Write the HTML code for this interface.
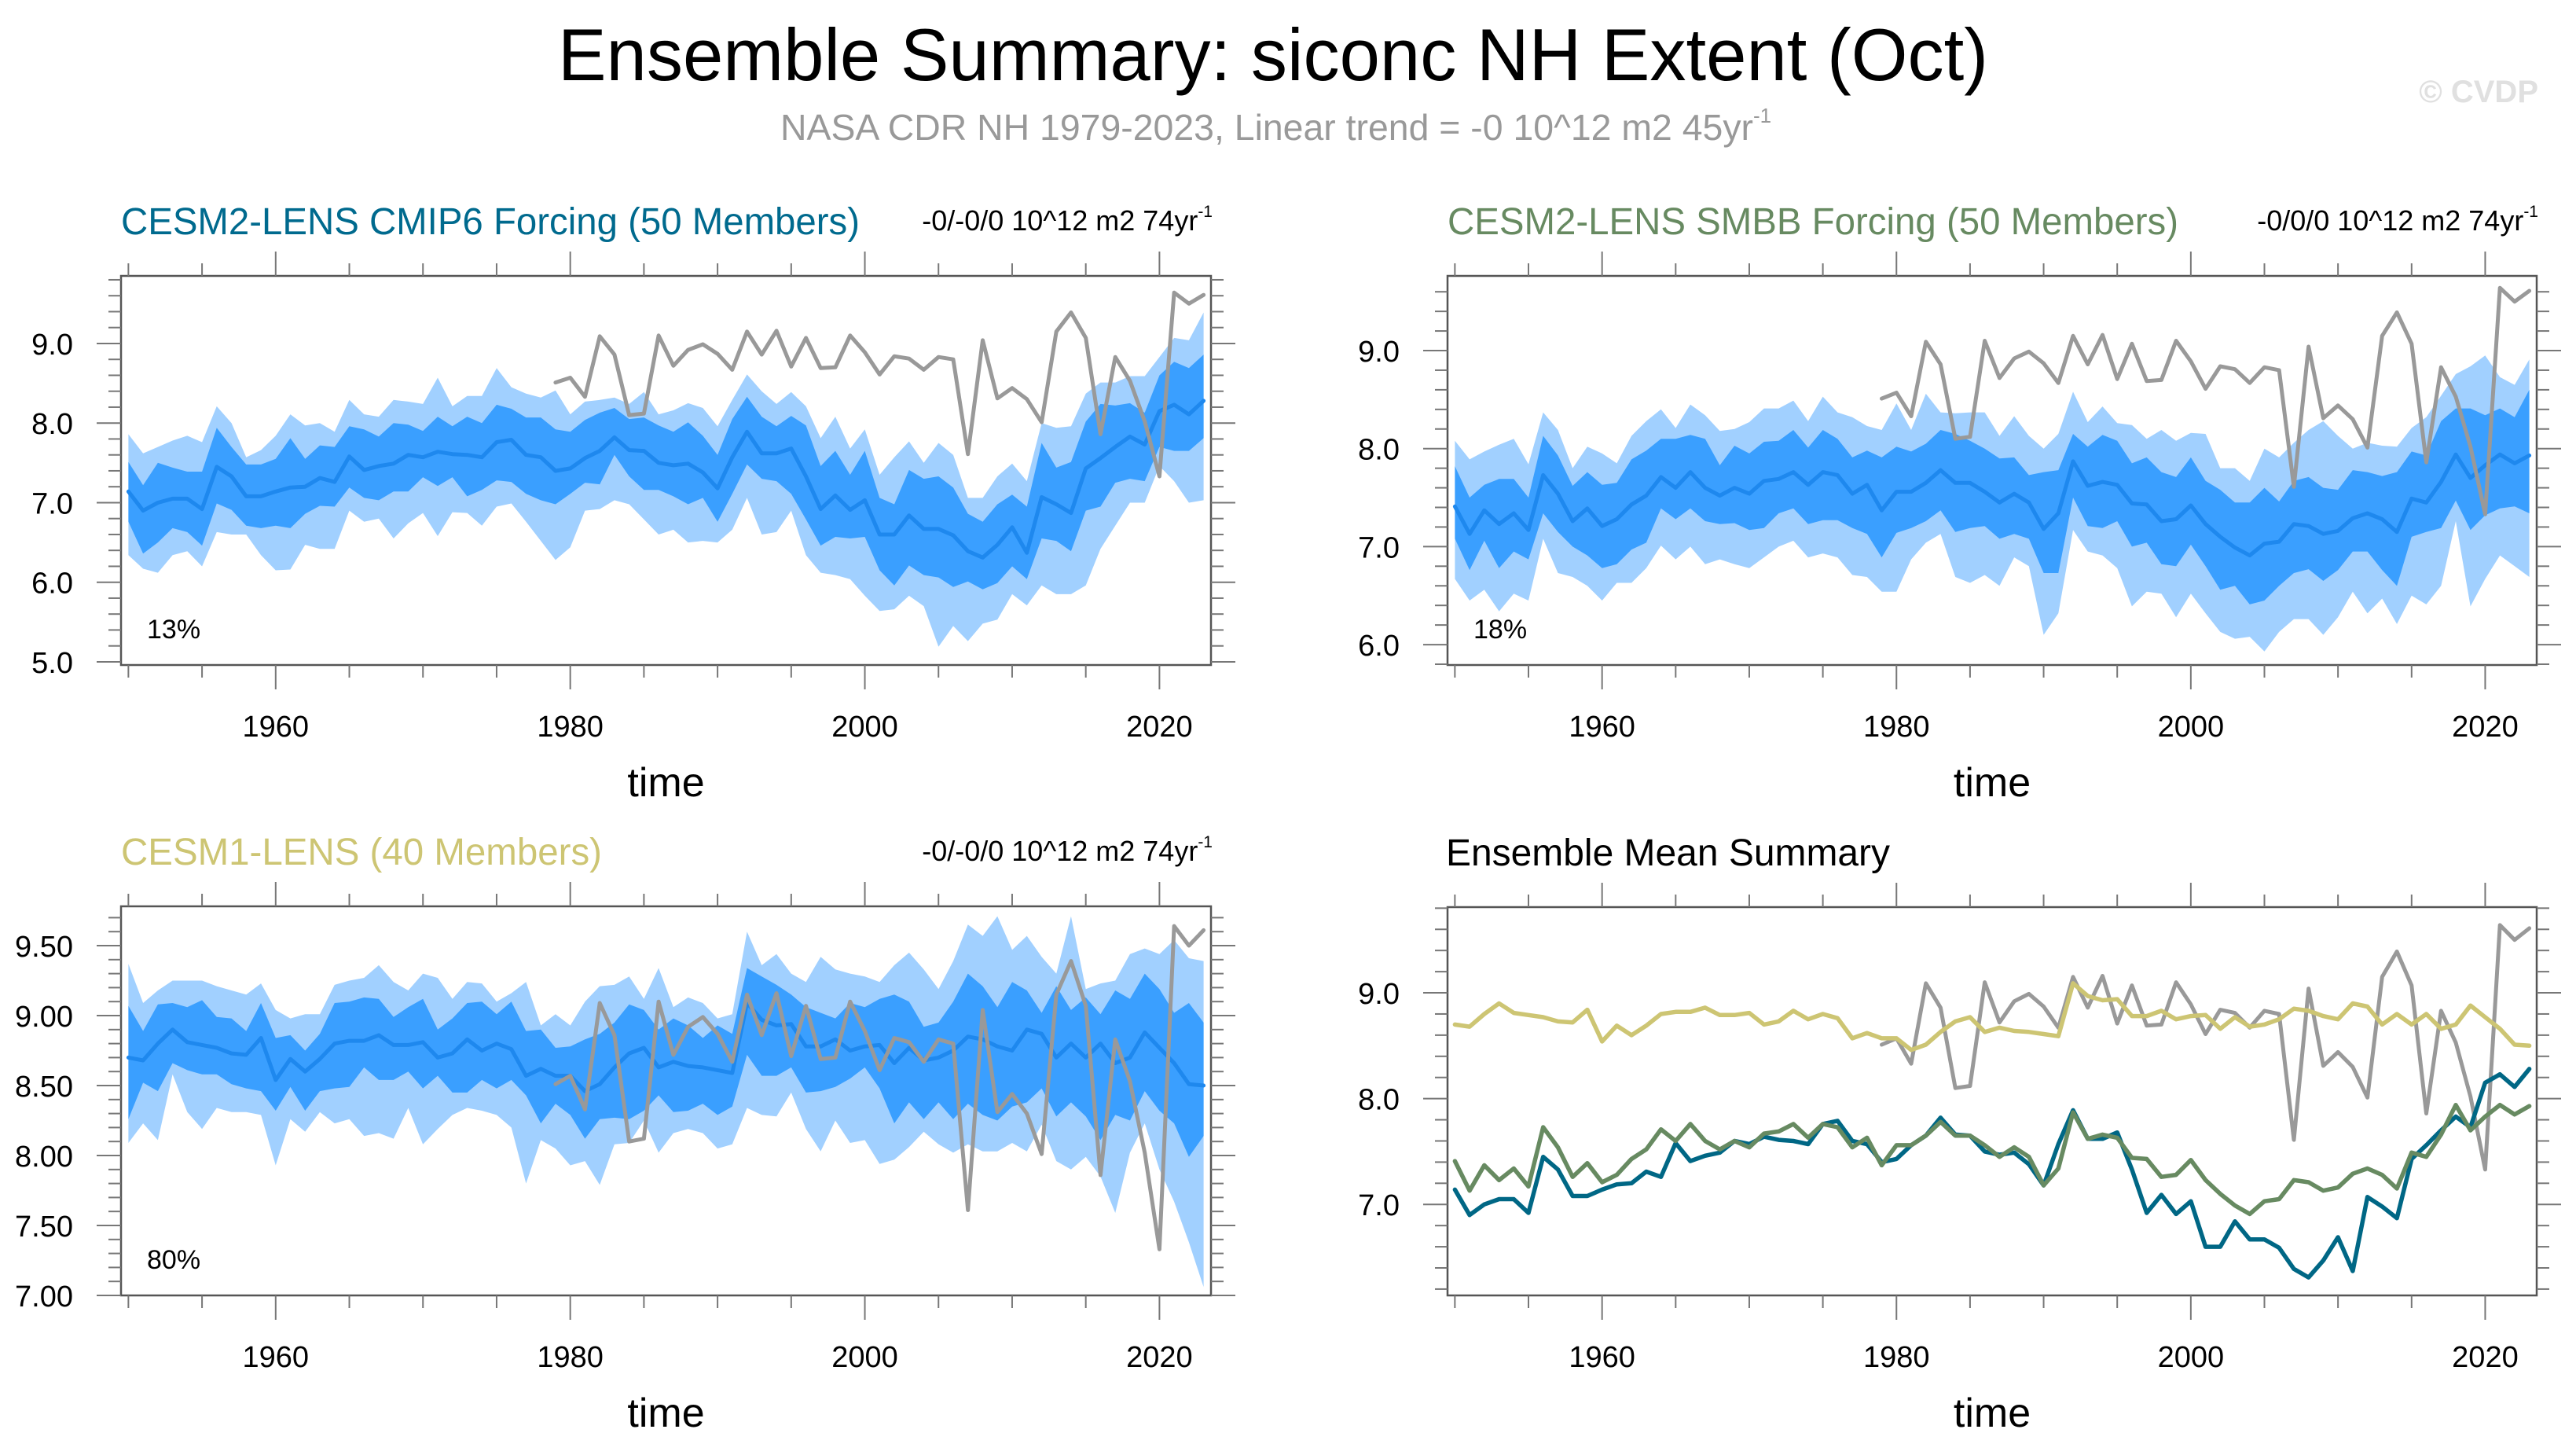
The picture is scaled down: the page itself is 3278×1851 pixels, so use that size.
<!DOCTYPE html>
<html><head><meta charset="utf-8"><style>
html,body{margin:0;padding:0;background:#fff;}
svg{display:block;font-family:"Liberation Sans",Arial,sans-serif;}
</style></head><body>
<svg id="fig" width="3278" height="1851" viewBox="0 0 3278 1851" xmlns="http://www.w3.org/2000/svg">
<text x="1620" y="102" font-size="94" text-anchor="middle" textLength="1820" lengthAdjust="spacingAndGlyphs" fill="#000">Ensemble Summary: siconc NH Extent (Oct)</text>
<text x="993" y="178" font-size="46" fill="#999"><tspan textLength="1238" lengthAdjust="spacingAndGlyphs">NASA CDR NH 1979-2023, Linear trend = -0 10^12 m2 45yr</tspan><tspan font-size="26" dy="-22">-1</tspan></text>
<text x="3230" y="130" font-size="40" font-weight="bold" fill="#e0e0e0" text-anchor="end">© CVDP</text>
<g id="plots"></g>
</svg>
<script>
const years = [];
for (let y = 1950; y <= 2023; y++) years.push(y);
const obsYears = [];
for (let y = 1979; y <= 2023; y++) obsYears.push(y);

const obs = [8.51,8.57,8.33,9.09,8.86,8.10,8.12,9.10,8.72,8.92,8.99,8.87,8.67,9.15,8.86,9.16,8.71,9.07,8.69,8.70,9.10,8.89,8.61,8.84,8.81,8.67,8.83,8.80,7.61,9.04,8.31,8.44,8.30,8.01,9.15,9.39,9.07,7.86,8.83,8.53,8.02,7.33,9.64,9.50,9.61];

const cmip6Mean = [7.14,6.90,7.00,7.05,7.05,6.92,7.45,7.33,7.08,7.08,7.14,7.19,7.20,7.31,7.26,7.58,7.41,7.46,7.49,7.60,7.57,7.64,7.61,7.60,7.57,7.76,7.79,7.60,7.57,7.40,7.43,7.56,7.65,7.82,7.66,7.65,7.50,7.47,7.49,7.38,7.18,7.57,7.89,7.62,7.62,7.68,7.33,6.92,7.09,6.91,7.03,6.60,6.60,6.84,6.67,6.67,6.59,6.39,6.31,6.47,6.69,6.37,7.07,6.98,6.87,7.43,7.56,7.70,7.83,7.73,8.15,8.23,8.11,8.28];
const cmip6InHi = [7.51,7.22,7.50,7.44,7.39,7.39,7.94,7.70,7.48,7.48,7.55,7.81,7.55,7.72,7.70,7.96,7.92,7.83,8.00,7.98,7.90,8.08,7.96,8.08,8.00,8.23,8.18,8.07,8.07,7.92,7.89,8.04,8.13,8.19,8.05,8.07,7.97,7.89,8.01,7.84,7.60,8.05,8.33,8.08,7.96,8.09,7.97,7.46,7.65,7.35,7.65,7.06,6.98,7.41,7.30,7.33,7.19,6.86,6.76,6.98,7.10,6.95,7.75,7.44,7.51,8.02,8.24,8.22,8.25,8.13,8.60,8.77,8.69,8.86];
const cmip6InLo = [6.76,6.36,6.50,6.68,6.63,6.46,6.99,6.91,6.71,6.68,6.71,6.68,6.86,6.96,6.95,7.19,7.06,7.03,7.14,7.14,7.32,7.21,7.32,7.08,7.16,7.28,7.26,7.11,7.03,6.98,7.11,7.25,7.23,7.60,7.33,7.16,7.16,7.08,6.98,7.06,6.76,7.11,7.48,7.30,7.27,7.11,6.79,6.46,6.57,6.55,6.57,6.15,5.96,6.21,6.09,6.06,5.94,6.01,5.91,5.99,6.20,6.04,6.55,6.52,6.39,6.90,6.95,7.25,7.30,7.27,7.70,7.65,7.65,7.81];
const cmip6OutHi = [7.86,7.62,7.70,7.78,7.84,7.76,8.21,8.00,7.57,7.66,7.84,8.11,7.97,8.00,7.89,8.29,8.11,8.08,8.29,8.27,8.24,8.57,8.21,8.34,8.34,8.69,8.45,8.37,8.32,8.41,8.11,8.27,8.29,8.32,8.24,8.39,8.11,8.16,8.25,8.19,7.96,8.29,8.61,8.40,8.24,8.39,8.21,7.81,8.08,7.68,7.92,7.35,7.57,7.77,7.50,7.75,7.60,7.06,7.06,7.33,7.49,7.27,8.00,7.94,7.96,8.37,8.51,8.51,8.59,8.59,8.83,9.07,9.04,9.39];
const cmip6OutLo = [6.34,6.17,6.12,6.34,6.39,6.20,6.63,6.60,6.60,6.34,6.15,6.16,6.47,6.42,6.42,6.90,6.76,6.80,6.55,6.74,6.87,6.58,6.88,6.87,6.71,6.95,6.99,6.76,6.52,6.28,6.44,6.90,6.92,7.03,6.98,6.79,6.60,6.66,6.50,6.52,6.50,6.66,7.06,6.60,6.63,6.90,6.34,6.12,6.09,6.04,5.83,5.64,5.66,5.83,5.70,5.19,5.45,5.26,5.48,5.53,5.85,5.71,5.96,5.85,5.85,5.96,6.42,6.71,7.00,7.00,7.46,7.27,7.00,7.03];

const smbbMean = [7.41,7.13,7.37,7.23,7.34,7.17,7.73,7.54,7.26,7.39,7.21,7.28,7.43,7.52,7.71,7.60,7.76,7.60,7.52,7.60,7.54,7.67,7.69,7.76,7.63,7.76,7.73,7.54,7.63,7.37,7.56,7.56,7.65,7.78,7.65,7.65,7.56,7.45,7.54,7.45,7.18,7.34,7.87,7.62,7.66,7.63,7.44,7.43,7.26,7.28,7.42,7.23,7.10,6.99,6.91,7.03,7.05,7.23,7.21,7.13,7.16,7.29,7.34,7.28,7.15,7.49,7.45,7.66,7.94,7.70,7.83,7.94,7.85,7.93];
const smbbInHi = [7.82,7.50,7.63,7.69,7.69,7.50,8.13,7.93,7.62,7.76,7.63,7.65,7.89,7.98,8.10,8.10,8.14,8.10,7.83,8.03,7.95,8.07,8.08,8.19,8.01,8.19,8.10,7.91,7.98,7.91,8.02,7.97,8.05,8.19,8.15,8.08,8.00,7.90,7.91,7.73,7.76,7.78,8.15,8.02,8.14,8.08,7.85,7.91,7.76,7.71,7.91,7.67,7.58,7.45,7.45,7.60,7.46,7.67,7.71,7.60,7.58,7.78,7.76,7.72,7.76,7.97,7.93,8.28,8.41,8.41,8.34,8.41,8.32,8.60];
const smbbInLo = [7.08,6.76,7.06,6.78,6.95,6.87,7.34,7.15,7.00,6.91,6.78,6.82,6.97,7.04,7.39,7.28,7.39,7.26,7.23,7.24,7.17,7.19,7.34,7.39,7.23,7.27,7.27,7.19,7.13,6.89,7.14,7.19,7.26,7.37,7.15,7.19,7.21,7.08,7.13,7.08,6.73,6.73,7.50,7.21,7.19,7.26,7.00,7.04,6.82,6.80,7.02,6.80,6.56,6.60,6.41,6.45,6.60,6.73,6.77,6.65,6.76,6.95,6.95,6.76,6.60,7.10,7.15,7.19,7.47,7.17,7.32,7.39,7.41,7.34];
const smbbOutHi = [8.08,7.89,7.97,8.04,8.10,7.84,8.37,8.19,7.80,8.02,7.95,7.85,8.13,8.28,8.40,8.21,8.45,8.34,8.18,8.20,8.27,8.41,8.41,8.49,8.28,8.53,8.37,8.32,8.23,8.19,8.46,8.19,8.56,8.37,8.36,8.37,8.37,8.13,8.33,8.13,8.00,8.15,8.58,8.27,8.43,8.26,8.24,8.10,8.19,8.08,8.16,8.15,7.80,7.80,7.67,8.00,7.91,8.06,8.19,8.28,8.13,8.00,8.06,8.03,8.02,8.21,8.32,8.54,8.76,8.84,8.95,8.73,8.65,8.91];
const smbbOutLo = [6.67,6.45,6.56,6.34,6.52,6.45,7.08,6.73,6.69,6.60,6.45,6.63,6.63,6.78,7.01,6.87,7.00,6.82,6.87,6.82,6.78,6.89,7.00,7.06,6.89,6.93,6.89,6.71,6.69,6.54,6.54,6.87,7.04,7.13,6.69,6.63,6.71,6.60,6.89,6.80,6.10,6.32,7.17,6.95,6.91,6.78,6.39,6.54,6.52,6.28,6.52,6.32,6.13,6.06,6.08,5.93,6.13,6.26,6.26,6.10,6.28,6.54,6.32,6.47,6.21,6.50,6.41,6.60,7.26,6.39,6.67,6.91,6.80,6.69];

const cesm1Mean = [8.70,8.68,8.80,8.90,8.81,8.79,8.77,8.73,8.72,8.84,8.54,8.69,8.60,8.69,8.80,8.82,8.82,8.86,8.79,8.79,8.81,8.70,8.73,8.83,8.75,8.80,8.76,8.57,8.62,8.57,8.57,8.46,8.51,8.63,8.73,8.77,8.63,8.67,8.64,8.63,8.61,8.59,9.09,8.97,8.93,8.94,8.78,8.78,8.83,8.75,8.78,8.79,8.66,8.77,8.68,8.70,8.75,8.85,8.83,8.78,8.75,8.90,8.87,8.70,8.80,8.70,8.80,8.66,8.70,8.88,8.77,8.66,8.51,8.50];
const cesm1InHi = [9.07,8.89,9.08,9.09,9.06,9.11,8.99,8.98,8.89,9.09,8.84,8.86,8.75,8.87,9.09,9.10,9.13,9.12,8.99,9.06,9.12,8.90,8.98,9.09,9.10,9.01,9.10,8.89,8.90,8.77,8.78,8.83,8.87,8.95,9.08,9.04,8.90,8.98,8.93,8.84,8.93,8.87,9.34,9.28,9.22,9.15,9.06,9.02,8.98,9.09,9.06,9.12,9.15,9.10,8.92,8.95,9.10,9.30,9.21,9.06,9.24,9.18,9.02,9.21,9.04,9.13,9.01,9.18,9.12,9.30,9.19,9.02,9.09,8.95];
const cesm1InLo = [8.26,8.52,8.46,8.66,8.61,8.58,8.58,8.51,8.48,8.46,8.32,8.49,8.32,8.46,8.48,8.49,8.63,8.54,8.54,8.60,8.48,8.57,8.45,8.45,8.54,8.48,8.54,8.43,8.23,8.37,8.29,8.12,8.26,8.27,8.26,8.32,8.43,8.31,8.32,8.37,8.29,8.35,8.72,8.57,8.57,8.63,8.45,8.46,8.49,8.55,8.63,8.48,8.23,8.38,8.26,8.38,8.26,8.37,8.29,8.25,8.35,8.38,8.48,8.28,8.38,8.28,8.11,8.29,8.25,8.46,8.32,8.23,7.99,8.14];
const cesm1OutHi = [9.37,9.09,9.18,9.25,9.25,9.25,9.21,9.18,9.15,9.23,9.04,8.98,9.01,9.01,9.22,9.25,9.27,9.36,9.24,9.18,9.30,9.27,9.12,9.24,9.23,9.10,9.16,9.24,8.93,9.01,8.93,9.10,9.21,9.22,9.28,9.12,9.34,9.06,9.13,9.09,8.98,9.01,9.60,9.36,9.44,9.30,9.24,9.42,9.33,9.30,9.28,9.24,9.36,9.45,9.33,9.19,9.39,9.65,9.57,9.71,9.47,9.57,9.42,9.30,9.71,9.19,9.23,9.25,9.44,9.48,9.44,9.54,9.41,9.39];
const cesm1OutLo = [8.09,8.23,8.11,8.58,8.31,8.19,8.34,8.31,8.31,8.29,7.93,8.26,8.17,8.31,8.23,8.26,8.14,8.16,8.12,8.34,8.08,8.19,8.29,8.34,8.32,8.29,8.20,7.80,8.11,8.05,7.93,7.96,7.79,8.08,8.09,8.25,8.02,8.16,8.19,8.16,8.05,8.08,8.34,8.29,8.28,8.45,8.19,8.03,8.25,8.09,8.11,7.94,7.97,8.06,8.17,8.08,8.02,8.08,8.03,8.03,8.09,8.03,8.22,7.96,7.90,7.99,7.85,7.59,8.02,8.23,7.90,7.67,7.38,7.06];

const pctLabels = ["13%", "18%", "80%"];

const NS = "http://www.w3.org/2000/svg";
const root = document.getElementById('plots');
function mk(tag, attrs, parent) {
  const e = document.createElementNS(NS, tag);
  for (const k in attrs) e.setAttribute(k, attrs[k]);
  (parent || root).appendChild(e);
  return e;
}
const C_OUT = "#a1d0ff", C_IN = "#3a9fff", C_MEAN = "#1e88ee", C_OBS = "#999999";

function makePanel(p) {
  const g = mk('g', {});
  
  
  const xs = y => p.x0 + (y - 1949.5) / 74 * (p.x1 - p.x0);
  const ys = v => p.y1 - (v - p.vMin) / (p.vMax - p.vMin) * (p.y1 - p.y0);
  const cid = 'clip-' + p.name;
  const cp = mk('clipPath', {id: cid}, g);
  mk('rect', {x: p.x0, y: p.y0, width: p.x1 - p.x0, height: p.y1 - p.y0}, cp);
  const plot = mk('g', {'clip-path': 'url(#' + cid + ')'}, g);
  
  
  function band(hi, lo, color, nm) {
    let d = '';
    years.forEach((y, i) => { d += (i ? 'L' : 'M') + xs(y).toFixed(1) + ',' + ys(hi[i]).toFixed(1); });
    for (let i = years.length - 1; i >= 0; i--) d += 'L' + xs(years[i]).toFixed(1) + ',' + ys(lo[i]).toFixed(1);
    const e = mk('path', {d: d + 'Z', fill: color, stroke: 'none'}, plot);
    
    
  }
  function line(xv, vals, color, w, nm) {
    const pts = xv.map((y, i) => xs(y).toFixed(1) + ',' + ys(vals[i]).toFixed(1)).join(' ');
    const e = mk('polyline', {points: pts, fill: 'none', stroke: color, 'stroke-width': w, 'stroke-linejoin': 'round', 'stroke-linecap': 'round'}, plot);
    
    
  }
  if (p.bands) {
    band(p.bands.oh, p.bands.ol, C_OUT, 'outer-spread-band');
    band(p.bands.ih, p.bands.il, C_IN, 'inner-spread-band');
    line(years, p.bands.m, C_MEAN, 5, 'ensemble-mean-line');
    line(obsYears, obs, C_OBS, 5, 'observations-line');
  } else {
    line(obsYears, obs, C_OBS, 5, 'observations-line');
    line(years, cmip6Mean, '#006785', 5.5, 'cesm2-cmip6-mean-line');
    line(years, smbbMean, '#678a61', 5.5, 'cesm2-smbb-mean-line');
    line(years, cesm1Mean, '#cdc573', 5.5, 'cesm1-mean-line');
  }
  const fr = mk('rect', {x: p.x0, y: p.y0, width: p.x1 - p.x0, height: p.y1 - p.y0, fill: 'none', stroke: '#555', 'stroke-width': 2.5}, g);
  
  
  for (let y = 1950; y <= 2020; y += 5) {
    const major = (y % 20 === 0);
    const L = major ? 31 : 16;
    const X = xs(y);
    mk('line', {x1: X, x2: X, y1: p.y1, y2: p.y1 + L, stroke: '#777', 'stroke-width': 2}, g);
    mk('line', {x1: X, x2: X, y1: p.y0, y2: p.y0 - L, stroke: '#777', 'stroke-width': 2}, g);
    if (major) {
      const t = mk('text', {x: X, y: p.y1 + 91, 'font-size': 38, 'text-anchor': 'middle', fill: '#000'}, g);
      t.textContent = y;
      
      
    }
  }
  const nMin = Math.ceil(p.vMin / p.minor - 1e-6), nMax = Math.floor(p.vMax / p.minor + 1e-6);
  for (let n = nMin; n <= nMax; n++) {
    const v = n * p.minor;
    const ratio = v / p.major;
    const major = Math.abs(ratio - Math.round(ratio)) < 1e-6;
    const L = major ? 31 : 16;
    const Y = ys(v);
    mk('line', {x1: p.x0, x2: p.x0 - L, y1: Y, y2: Y, stroke: '#777', 'stroke-width': 2}, g);
    mk('line', {x1: p.x1, x2: p.x1 + L, y1: Y, y2: Y, stroke: '#777', 'stroke-width': 2}, g);
    if (major && v >= p.labelMin - 1e-6) {
      const t = mk('text', {x: p.x0 - 61, y: Y + 14, 'font-size': 38, 'text-anchor': 'end', fill: '#000'}, g);
      t.textContent = v.toFixed(p.dec);
      
      
    }
  }
  const tt = mk('text', {x: p.x0 + (p.titleDx || 0), y: p.y0 - 53, 'font-size': 48, fill: p.titleColor, textLength: p.titleLen, lengthAdjust: 'spacingAndGlyphs'}, g);
  tt.textContent = p.title;
  
  
  if (p.trend) {
    const tr = mk('text', {x: p.x1 + 2, y: p.y0 - 58, 'font-size': 36, 'text-anchor': 'end', fill: '#000'}, g);
    
    
    const s1 = mk('tspan', {}, tr); s1.textContent = p.trend;
    const s2 = mk('tspan', {'font-size': 21, dy: -17}, tr); s2.textContent = '-1';
  }
  if (p.pct) {
    const pc = mk('text', {x: p.x0 + 33, y: p.y1 - 34, 'font-size': 34, fill: '#000'}, g);
    pc.textContent = p.pct;
    
    
  }
  const xt = mk('text', {x: (p.x0 + p.x1) / 2, y: p.y1 + 167, 'font-size': 52, 'text-anchor': 'middle', fill: '#000'}, g);
  xt.textContent = 'time';
  
  
}

makePanel({name: 'panel-cesm2-cmip6', x0: 154, x1: 1541, y0: 351, y1: 846, vMin: 4.96, vMax: 9.849, major: 1, minor: 0.2, dec: 1, labelMin: 5,
  title: 'CESM2-LENS CMIP6 Forcing (50 Members)', titleColor: '#006a8e', titleLen: 940, trend: '-0/-0/0 10^12 m2 74yr', pct: pctLabels[0],
  bands: {m: cmip6Mean, ih: cmip6InHi, il: cmip6InLo, oh: cmip6OutHi, ol: cmip6OutLo}});
makePanel({name: 'panel-cesm2-smbb', x0: 1842, x1: 3228, y0: 351, y1: 846, vMin: 5.792, vMax: 9.762, major: 1, minor: 0.2, dec: 1, labelMin: 6,
  title: 'CESM2-LENS SMBB Forcing (50 Members)', titleColor: '#678a61', titleLen: 930, trend: '-0/0/0 10^12 m2 74yr', pct: pctLabels[1],
  bands: {m: smbbMean, ih: smbbInHi, il: smbbInLo, oh: smbbOutHi, ol: smbbOutLo}});
makePanel({name: 'panel-cesm1', x0: 154, x1: 1541, y0: 1153, y1: 1648, vMin: 7.0, vMax: 9.781, major: 0.5, minor: 0.1, dec: 2, labelMin: 7,
  title: 'CESM1-LENS (40 Members)', titleColor: '#cdc573', titleLen: 612, trend: '-0/-0/0 10^12 m2 74yr', pct: pctLabels[2],
  bands: {m: cesm1Mean, ih: cesm1InHi, il: cesm1InLo, oh: cesm1OutHi, ol: cesm1OutLo}});
makePanel({name: 'panel-ensemble-mean-summary', x0: 1842, x1: 3228, y0: 1154, y1: 1648, vMin: 6.14, vMax: 9.81, major: 1, minor: 0.2, dec: 1, labelMin: 7,
  title: 'Ensemble Mean Summary', titleColor: '#000', titleLen: 565, titleDx: -2});
</script>
</body></html>
